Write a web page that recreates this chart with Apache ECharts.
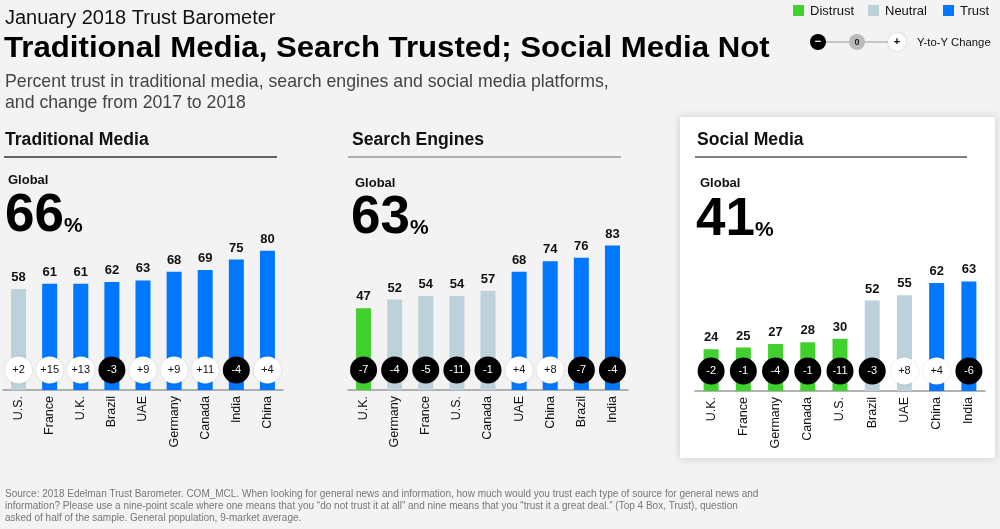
<!DOCTYPE html>
<html>
<head>
<meta charset="utf-8">
<script src="https://cdn.jsdelivr.net/npm/echarts@6/dist/echarts.min.js"></script>
<style>
html,body{margin:0;padding:0;background:#f3f3f4;}
#c{width:1000px;height:529px;}
</style>
</head>
<body>
<div id="c"></div>
<script>
// ---- DATA ----
const tmCats = ['U.S.','France','U.K.','Brazil','UAE','Germany','Canada','India','China'];
const tmVals = [58,61,61,62,63,68,69,75,80];
const tmChg  = [2,15,13,-3,9,9,11,-4,4];
const tmLvl  = ['N','T','T','T','T','T','T','T','T'];

const seCats = ['U.K.','Germany','France','U.S.','Canada','UAE','China','Brazil','India'];
const seVals = [47,52,54,54,57,68,74,76,83];
const seChg  = [-7,-4,-5,-11,-1,4,8,-7,-4];
const seLvl  = ['D','N','N','N','N','T','T','T','T'];

const smCats = ['U.K.','France','Germany','Canada','U.S.','Brazil','UAE','China','India'];
const smVals = [24,25,27,28,30,52,55,62,63];
const smChg  = [-2,-1,-4,-1,-11,-3,8,4,-6];
const smLvl  = ['D','D','D','D','D','N','N','T','T'];

const panelTitles = ['Traditional Media','Search Engines','Social Media'];
const globalVals = [66,63,41];

const footerLines = [
  'Source: 2018 Edelman Trust Barometer. COM_MCL. When looking for general news and information, how much would you trust each type of source for general news and',
  'information? Please use a nine-point scale where one means that you \u201cdo not trust it at all\u201d and nine means that you \u201ctrust it a great deal.\u201d (Top 4 Box, Trust), question',
  'asked of half of the sample. General population, 9-market average.'
];

// ---- STYLE ----
const COL = {D:'#41d12e', N:'#bcd1da', T:'#0077ff'};
const FONT = '"Liberation Sans", Arial, Helvetica, sans-serif';

const panels = [
  {cats:tmCats, vals:tmVals, chg:tmChg, lvl:tmLvl, left:3, width:280, top:216, x0:5, line:'#333', dy:0},
  {cats:seCats, vals:seVals, chg:seChg, lvl:seLvl, left:348, width:280, top:216, x0:351, line:'#999', dy:2},
  {cats:smCats, vals:smVals, chg:smChg, lvl:smLvl, left:695, width:290, top:217, x0:696, line:'#555', dy:4}
];

const grids=[], xAxes=[], yAxes=[], series=[];
panels.forEach((p,i)=>{
  grids.push({left:p.left, width:p.width, top:p.top, height:174});
  xAxes.push({type:'category', gridIndex:i, data:p.cats,
    axisLine:{show:true, lineStyle:{color:'#999', width:1.5}},
    axisTick:{show:false},
    axisLabel:{rotate:90, interval:0, margin:6, color:'#111', fontSize:12.5, fontFamily:FONT}});
  yAxes.push({type:'value', gridIndex:i, min:0, max:100, show:false, splitLine:{show:false}});
  series.push({type:'bar', xAxisIndex:i, yAxisIndex:i, barWidth:15,
    data:p.vals.map((v,k)=>({value:v, itemStyle:{color:COL[p.lvl[k]]}})),
    label:{show:true, position:'top', distance:5, color:'#111', fontWeight:'bold', fontSize:13, fontFamily:FONT},
    silent:true, animation:false});
  series.push({type:'scatter', xAxisIndex:i, yAxisIndex:i, symbol:'circle', symbolSize:27,
    symbolOffset:[0,-20], z:5,
    itemStyle:{opacity:1},
    data:p.chg.map((c,k)=>({value:[k,0], chg:c,
      itemStyle:{opacity:1, color:c<0?'#000':'#fff', shadowBlur:c<0?0:3, shadowColor:'rgba(0,0,0,0.12)'},
      label:{color:c<0?'#fff':'#111'}})),
    label:{show:true, position:'inside', fontSize:11, fontFamily:FONT,
      formatter:(d)=>(d.data.chg>0?'+':'')+d.data.chg},
    silent:true, animation:false});
});

// ---- GRAPHICS ----
const g = [];
// social media card
g.push({type:'rect', z:-10, shape:{x:680,y:117,width:315,height:341},
  style:{fill:'#fff', shadowBlur:8, shadowColor:'rgba(0,0,0,0.18)'}});
function txt(x,y,text,font,fill,align,va){
  return {type:'text', z:10, style:{x:x,y:y,text:text,font:font,fill:fill||'#000',align:align||'left',verticalAlign:va||'middle'}};
}
g.push(txt(5,18,'January 2018 Trust Barometer','20px '+FONT,'#111'));
g.push(Object.assign(txt(0,0,'Traditional Media, Search Trusted; Social Media Not','bold 29px '+FONT,'#000'),
  {x:4, y:49, scaleX:1.075}));
g.push(txt(5,82,'Percent trust in traditional media, search engines and social media platforms,','17.7px '+FONT,'#444'));
g.push(txt(5,103,'and change from 2017 to 2018','17.7px '+FONT,'#444'));

const titleX=[5,352,697], lineX=[[4,277],[348,621],[695,967]], pctX=[64,410,755];
const globalY=[180,183,183];
panels.forEach((p,i)=>{
  g.push(txt(titleX[i],140,panelTitles[i],'bold 17.6px '+FONT,'#111'));
  g.push({type:'line', z:10, shape:{x1:lineX[i][0],y1:157,x2:lineX[i][1],y2:157}, style:{stroke:p.line,lineWidth:1.5}});
  g.push(txt(titleX[i]+3,globalY[i],'Global','bold 13px '+FONT,'#111'));
  g.push(txt(p.x0,216.5+p.dy,String(globalVals[i]),'bold 53px '+FONT,'#000'));
  g.push(txt(pctX[i],226+p.dy,'%','bold 21px '+FONT,'#000'));
});

// legend
const leg=[['D','Distrust',793],['N','Neutral',868],['T','Trust',943]];
leg.forEach(l=>{
  g.push({type:'rect', z:10, shape:{x:l[2],y:5,width:11,height:11}, style:{fill:COL[l[0]]}});
  g.push(txt(l[2]+17,11,l[1],'13px '+FONT,'#111'));
});
g.push({type:'line', z:10, shape:{x1:818,y1:42,x2:897,y2:42}, style:{stroke:'#999',lineWidth:1}});
g.push({type:'circle', z:11, shape:{cx:818,cy:42,r:8}, style:{fill:'#000'}});
g.push({type:'circle', z:11, shape:{cx:857,cy:42,r:8}, style:{fill:'#bbb'}});
g.push({type:'circle', z:11, shape:{cx:897,cy:42,r:9}, style:{fill:'#fff', shadowBlur:3, shadowColor:'rgba(0,0,0,0.15)'}});
g.push(Object.assign(txt(818,42,'\u2212','bold 11px '+FONT,'#fff','center'),{z:12}));
g.push(Object.assign(txt(857,43,'0','bold 9px '+FONT,'#222','center'),{z:12}));
g.push(Object.assign(txt(897,42,'+','bold 11px '+FONT,'#000','center'),{z:12}));
g.push(txt(917,43,'Y-to-Y Change','11.3px '+FONT,'#111'));

// footer
footerLines.forEach((l,k)=>g.push(txt(5,494+k*12,l,'10px '+FONT,'#777')));

const chart = echarts.init(document.getElementById('c'), null, {renderer:'canvas'});
chart.setOption({
  backgroundColor:'#f3f3f4',
  animation:false,
  grid:grids, xAxis:xAxes, yAxis:yAxes, series:series, graphic:g
});
</script>
</body>
</html>
